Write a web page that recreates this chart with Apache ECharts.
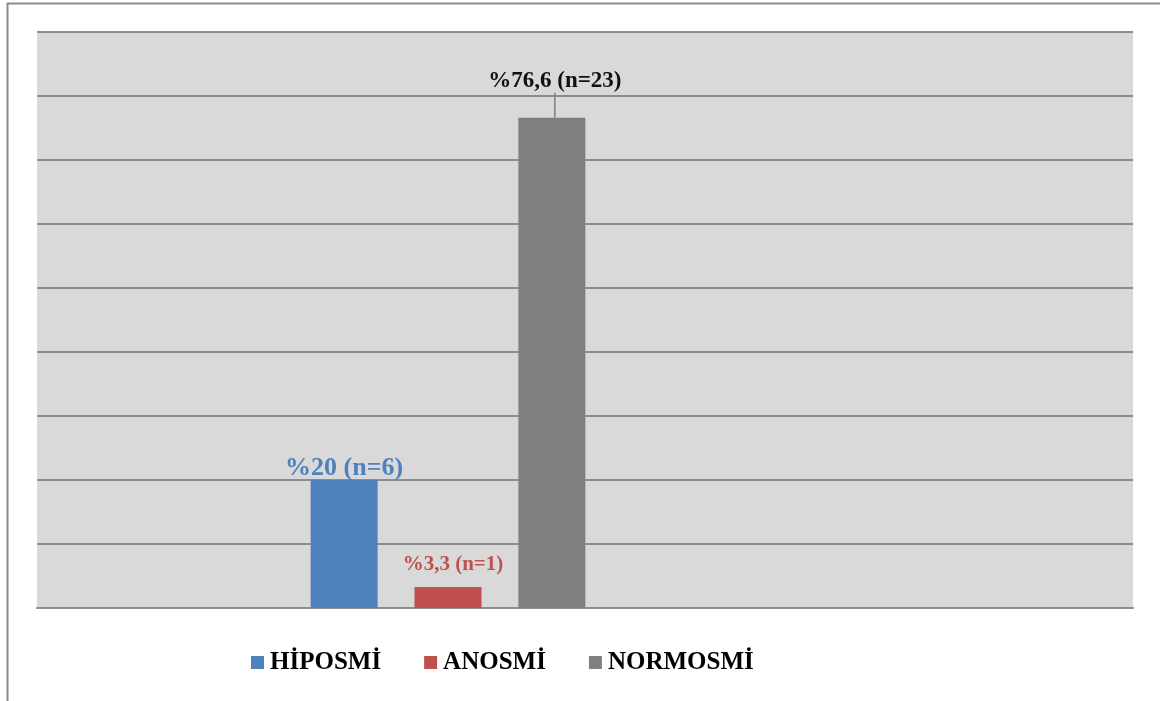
<!DOCTYPE html>
<html>
<head>
<meta charset="utf-8">
<script src="https://cdn.jsdelivr.net/npm/echarts@6/dist/echarts.min.js"></script>
<style>
  html, body { margin: 0; padding: 0; background: #ffffff; }
  #chart { width: 1160px; height: 701px; }
</style>
</head>
<body>
<div id="chart"></div>
<script>
// Olfactory test groups: all three bars share the second slot of a four-slot axis
const categories = ['', 'Koku', '', ''];
const seriesNames = ['HİPOSMİ', 'ANOSMİ', 'NORMOSMİ'];
const percents = [20, 3.3, 76.6];
const counts = [6, 1, 23];
const colors = ['#4f81bd', '#c0504d', '#7f7f7f'];
const labelColors = ['#4f81bd', '#c0504d', '#111111'];
const labelSizes = [26, 21, 23];
const yTicks = { min: 0, max: 90, interval: 10 };

const slot = 1;
function fmtPercent(v) { return String(v).replace('.', ','); }

const series = seriesNames.map((name, i) => {
  const data = categories.map((c, k) => (k === slot ? percents[i] : null));
  const s = {
    name: name,
    type: 'bar',
    data: data,
    barWidth: 67,
    barGap: '55%',
    itemStyle: { color: colors[i] },
    label: {
      show: true,
      position: 'top',
      distance: i === 0 ? -1 : (i === 1 ? 12 : 5),
      offset: i === 1 ? [5, 0] : [0, 0],
      color: labelColors[i],
      fontFamily: '"Liberation Serif", "Times New Roman", serif',
      fontWeight: 'bold',
      fontSize: labelSizes[i],
      formatter: () => '%' + fmtPercent(percents[i]) + ' (n=' + counts[i] + ')'
    }
  };
  if (i === 2) {
    s.labelLayout = { dy: -20, dx: 3 };
    s.labelLine = { show: true, lineStyle: { color: '#7f7f7f', width: 1.5 } };
  }
  return s;
});

const chart = echarts.init(document.getElementById('chart'), null, { renderer: 'canvas' });
chart.setOption({
  animation: false,
  backgroundColor: '#ffffff',
  graphic: [
    {
      type: 'polyline',
      shape: { points: [[7.5, 701], [7.5, 3.5], [1160, 3.5]] },
      style: { stroke: '#8c8c8c', lineWidth: 2, fill: null },
      silent: true
    }
  ],
  grid: {
    left: 37, right: 27, top: 32, bottom: 93,
    show: true, backgroundColor: '#d9d9d9', borderWidth: 0
  },
  legend: {
    data: seriesNames,
    left: 251,
    top: 650,
    padding: 0,
    itemWidth: 13,
    itemHeight: 13,
    itemGap: 43,
    icon: 'rect',
    textStyle: {
      fontFamily: '"Liberation Serif", "Times New Roman", serif',
      fontWeight: 'bold',
      fontSize: 25,
      color: '#000000',
      padding: [0, 0, 0, 1]
    }
  },
  xAxis: {
    type: 'category',
    data: categories,
    axisLine: { show: true, lineStyle: { color: '#8c8c8c', width: 2 } },
    axisTick: { show: false },
    axisLabel: { show: false }
  },
  yAxis: {
    type: 'value',
    min: yTicks.min,
    max: yTicks.max,
    interval: yTicks.interval,
    axisLine: { show: false },
    axisTick: { show: false },
    axisLabel: { show: false },
    splitLine: { show: true, lineStyle: { color: '#8c8c8c', width: 2 } }
  },
  series: series
});
</script>
</body>
</html>
